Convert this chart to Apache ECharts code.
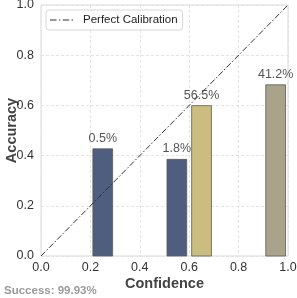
<!DOCTYPE html>
<html><head><meta charset="utf-8">
<script src="https://cdn.jsdelivr.net/npm/echarts@6/dist/echarts.min.js"></script>
<style>html,body{margin:0;padding:0;background:#fff}#c{width:297px;height:298px}</style>
</head><body><div id="c"></div>
<script>
const binCenters = [0.25, 0.55, 0.65, 0.95];
const accuracy = [0.427, 0.385, 0.599, 0.682];
const shareLabels = ['0.5%', '1.8%', '56.5%', '41.2%'];
const barColors = ['#4f5d7e', '#4f5d7e', '#cbbd80', '#a8a38a'];
const barWidth = 0.08;
const diagonal = [[0, 0], [1, 1]];

const chart = echarts.init(document.getElementById('c'));
const font = 'Liberation Sans, Arial, sans-serif';
chart.setOption({
  animation: false,
  grid: { left: 41, right: 9, top: 5, bottom: 42, containLabel: false, outerBoundsMode: 'none',
    show: true, borderColor: '#d9d9d9', borderWidth: 1 },
  legend: {
    data: [{ name: 'Perfect Calibration',
      icon: 'path://M0,0h7v1h-7z M9.5,0h1.5v1h-1.5z M13.5,0h7v1h-7z M23,0h1.5v1h-1.5z' }],
    left: 46, top: 10, orient: 'vertical',
    borderColor: '#d6d6d6', borderWidth: 1, borderRadius: 3, padding: [4, 5, 4, 4],
    itemWidth: 23, itemHeight: 1.2, itemGap: 4,
    textStyle: { fontFamily: font, fontSize: 11.5, color: '#222', padding: [0, 0, 0, 5] },
    itemStyle: { color: '#333' },
    backgroundColor: '#fff'
  },
  xAxis: {
    type: 'value', min: 0, max: 1, interval: 0.2,
    name: 'Confidence', nameLocation: 'middle', nameGap: 20, nameMoveOverlap: false,
    nameTextStyle: { fontFamily: font, fontSize: 14.5, fontWeight: 'bold', color: '#444', verticalAlign: 'top' },
    axisLine: { show: false }, axisTick: { show: false },
    axisLabel: { fontFamily: font, fontSize: 12.5, color: '#333', margin: 5, formatter: v => v.toFixed(1) },
    splitLine: { lineStyle: { color: '#e4e4e4', type: [3, 2] } }
  },
  yAxis: {
    type: 'value', min: 0, max: 1, interval: 0.2,
    name: 'Accuracy', nameLocation: 'middle', nameGap: 22, nameMoveOverlap: false,
    nameTextStyle: { fontFamily: font, fontSize: 14.5, fontWeight: 'bold', color: '#444' },
    axisLine: { show: false }, axisTick: { show: false },
    axisLabel: { fontFamily: font, fontSize: 12.5, color: '#333', margin: 7, formatter: v => v.toFixed(1) },
    splitLine: { lineStyle: { color: '#e4e4e4', type: [3, 2] } }
  },
  graphic: [{
    type: 'text', left: 4, top: 285,
    style: { text: 'Success: 99.93%', font: 'bold 11.5px ' + font, fill: '#9a9a9a' }
  }],
  series: [{
    type: 'custom', name: 'bars', z: 2,
    data: binCenters.map((c, i) => [c, accuracy[i], i]),
    encode: { x: 0, y: 1 },
    renderItem: function (params, api) {
      const c = api.value(0), a = api.value(1), i = api.value(2);
      const p0 = api.coord([c - barWidth / 2, a]);
      const p1 = api.coord([c + barWidth / 2, 0]);
      return {
        type: 'group',
        children: [{
          type: 'rect',
          shape: { x: p0[0], y: p0[1], width: p1[0] - p0[0], height: p1[1] - p0[1] },
          style: { fill: barColors[i], stroke: '#5a5a5a', lineWidth: 0.8 }
        }, {
          type: 'text', z2: 10,
          style: { text: shareLabels[i], x: (p0[0] + p1[0]) / 2, y: p0[1] - 4,
            align: 'center', verticalAlign: 'bottom', font: '12.5px ' + font, fill: '#555' }
        }]
      };
    }
  }, {
    type: 'line', name: 'Perfect Calibration', data: diagonal, z: 5,
    symbol: 'none', showSymbol: false,
    lineStyle: { color: '#333', width: 1, type: [6, 2, 1.5, 2] },
    itemStyle: { color: '#333' }
  }]
});
</script></body></html>
